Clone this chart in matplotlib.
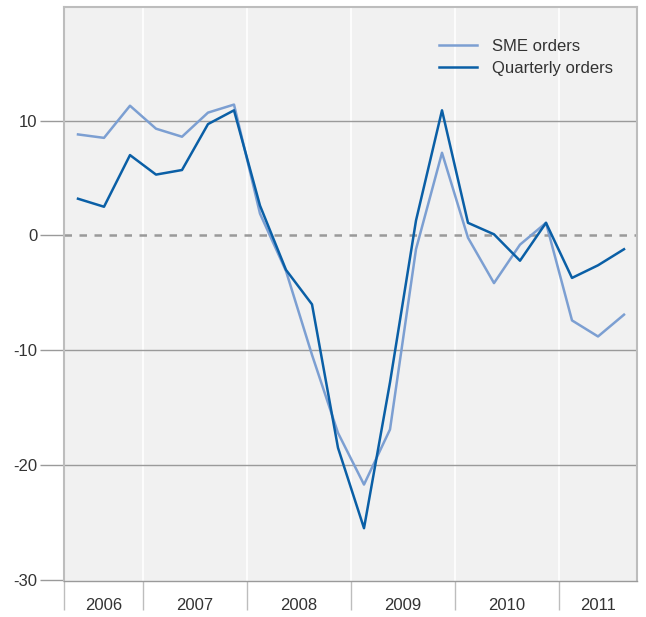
import numpy as np
import matplotlib.pyplot as plt

# quarterly values, 2006 Q2 .. 2011 Q3
years = ['2006', '2007', '2008', '2009', '2010', '2011']
quarters_per_year = [3, 4, 4, 4, 4, 3]

sme_orders = [8.8, 8.5, 11.3, 9.3, 8.6, 10.7, 11.4,
              1.9, -3.1, -10.4, -17.2, -21.7, -16.9, -1.2, 7.2,
              -0.2, -4.15, -0.8, 1.1, -7.4, -8.8, -6.9]
quarterly_orders = [3.2, 2.5, 7.0, 5.3, 5.7, 9.7, 10.9,
                    2.6, -3.0, -6.0, -18.5, -25.5, -12.8, 1.3, 10.9,
                    1.1, 0.1, -2.2, 1.1, -3.7, -2.6, -1.2]

plt.rcParams['font.family'] = ['Liberation Sans', 'DejaVu Sans']

light = '#7c9fd2'
dark = '#0a5fa6'
grey = '#9a9a9a'
txt = '#333333'

x = np.arange(len(sme_orders))
bounds = np.cumsum(quarters_per_year)[:-1] - 0.5
xmin, xmax = -0.55, len(x) - 1 + 0.5

fig = plt.figure(figsize=(6.46, 6.17), dpi=100)
ax = fig.add_axes([63.7 / 646, 36 / 617, (637 - 63.7) / 646, (581 - 7) / 617])
ax.set_facecolor('#f1f1f1')

# year separators and horizontal grid
for b in bounds:
    ax.axvline(b, color='white', lw=1.2, zorder=1)
for v in [10, -10, -20]:
    ax.axhline(v, color=grey, lw=1.0, zorder=1)
ax.axhline(0, color=grey, lw=1.8, ls=(0, (3, 3)), zorder=1)

ax.plot(x, sme_orders, color=light, lw=1.8, label='SME orders', zorder=3)
ax.plot(x, quarterly_orders, color=dark, lw=1.8, label='Quarterly orders', zorder=4)

ax.set_xlim(xmin, xmax)
ax.set_ylim(-30.1, 19.9)

for s in ax.spines.values():
    s.set_color('#bdbdbd')
    s.set_linewidth(1.5)
ax.spines['bottom'].set_color(grey)
ax.spines['bottom'].set_linewidth(1.0)

ax.set_yticks([-30, -20, -10, 0, 10])
ax.set_yticklabels(['-30', '-20', '-10', '0', '10'])
ax.tick_params(axis='y', length=17, width=1.0, color=grey, pad=2,
               labelsize=12, labelcolor=txt)

# year boundaries as ticks, labels centred in each year
edges = np.concatenate([[xmin], bounds, [xmax]])
ax.set_xticks(edges[:-1])
ax.set_xticklabels([])
ax.tick_params(axis='x', length=21, width=1.0, color='#bdbdbd')
centres = (edges[:-1] + edges[1:]) / 2
ax.set_xticks(centres, minor=True)
ax.set_xticklabels(years, minor=True)
ax.tick_params(axis='x', which='minor', length=0, pad=12,
               labelsize=12, labelcolor=txt)

leg = ax.legend(loc='upper right', bbox_to_anchor=(0.985, 0.97), frameon=False,
                fontsize=12, handlelength=2.3, labelspacing=0.42,
                handletextpad=0.9)
for t in leg.get_texts():
    t.set_color(txt)

fig.savefig('out.png', dpi=100)
